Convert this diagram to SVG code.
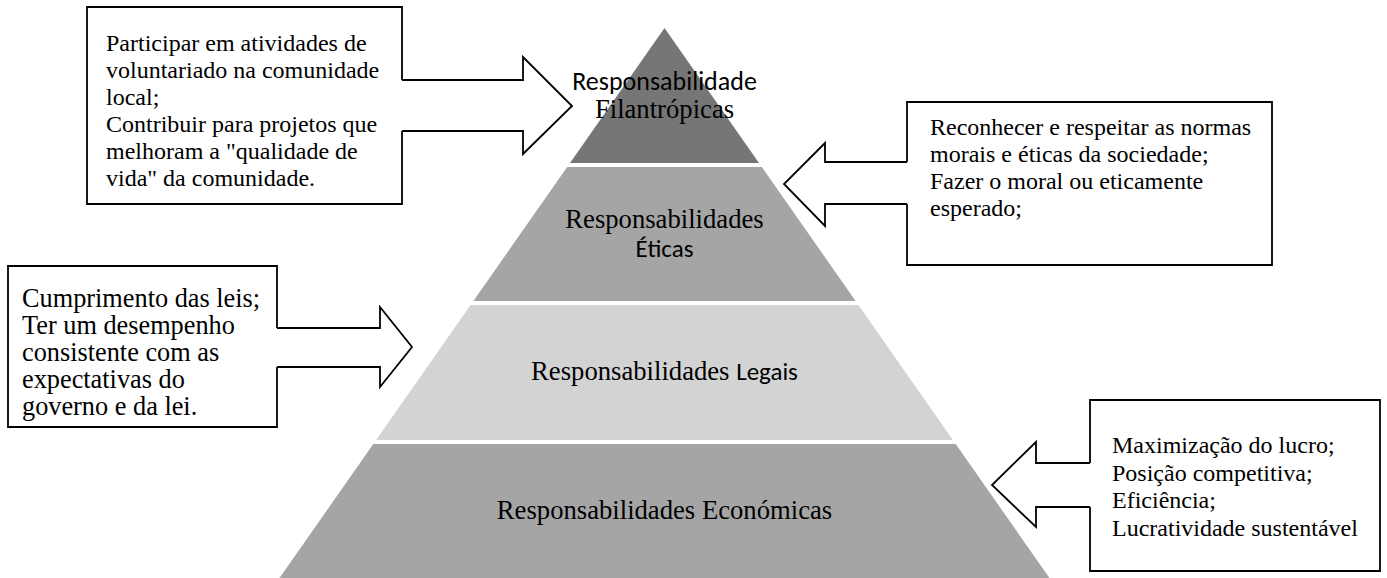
<svg xmlns="http://www.w3.org/2000/svg" width="1387" height="578" viewBox="0 0 1387 578">
<style>
.serif{font-family:"Liberation Serif","Times New Roman",serif;fill:#000}
.sans{font-family:Carlito,Lato,"Liberation Sans",sans-serif;fill:#000}
.lbl{font-size:26.67px}
.box{font-size:24px}
.box3{font-size:26.3px}
.out{fill:#fff;stroke:#000;stroke-width:1.8;stroke-linejoin:miter}
.arr{fill:#fff;stroke:#000;stroke-width:1.8;stroke-linejoin:miter}
</style>
<rect width="1387" height="578" fill="#fff"/>
<g id="tier-filantropicas">
<polygon points="664.5,28 759,163 570,163" fill="#767676"/>
<text class="sans" font-size="26" x="664.5" y="90" text-anchor="middle">Responsabilidade</text>
<text class="serif lbl" x="664.5" y="118" text-anchor="middle">Filantrópicas</text>
</g>
<g id="tier-eticas">
<polygon points="567.2,167 761.8,167 855.6,301 473.4,301" fill="#a5a5a5"/>
<text class="serif lbl" x="664.5" y="228" text-anchor="middle">Responsabilidades</text>
<text class="sans" font-size="25" x="664.5" y="257" text-anchor="middle">Éticas</text>
</g>
<g id="tier-legais">
<polygon points="470.6,305 858.4,305 952.9,440 376.1,440" fill="#d3d3d3"/>
<text x="664.5" y="380" text-anchor="middle"><tspan class="serif lbl">Responsabilidades </tspan><tspan class="sans" font-size="25">Legais</tspan></text>
</g>
<g id="tier-economicas">
<polygon points="373.3,444 955.7,444 1049.5,578 279.5,578" fill="#a5a5a5"/>
<text class="serif lbl" x="664.5" y="519" text-anchor="middle">Responsabilidades Económicas</text>
</g>
<g id="callout-filantropicas">
<path class="out" d="M402,80 V7 H87 V204 H402 V131"/>
<text class="serif box" x="106" y="51">Participar em atividades de</text>
<text class="serif box" x="106" y="78">voluntariado na comunidade</text>
<text class="serif box" x="106" y="105">local;</text>
<text class="serif box" x="106" y="132">Contribuir para projetos que</text>
<text class="serif box" x="106" y="159">melhoram a "qualidade de</text>
<text class="serif box" x="106" y="186">vida" da comunidade.</text>
</g>
<g id="callout-eticas">
<path class="out" d="M907,162 V102 H1272 V265 H907 V204"/>
<text class="serif box" x="930" y="135">Reconhecer e respeitar as normas</text>
<text class="serif box" x="930" y="162">morais e éticas da sociedade;</text>
<text class="serif box" x="930" y="189">Fazer o moral ou eticamente</text>
<text class="serif box" x="930" y="216">esperado;</text>
</g>
<g id="callout-legais">
<path class="out" d="M277,328 V266 H8 V427 H277 V367"/>
<text class="serif box3" x="22" y="307">Cumprimento das leis;</text>
<text class="serif box3" x="22" y="334">Ter um desempenho</text>
<text class="serif box3" x="22" y="361">consistente com as</text>
<text class="serif box3" x="22" y="388">expectativas do</text>
<text class="serif box3" x="22" y="415">governo e da lei.</text>
</g>
<g id="callout-economicas">
<path class="out" d="M1090,463 V400 H1380 V571 H1090 V507"/>
<text class="serif box" x="1112" y="453">Maximização do lucro;</text>
<text class="serif box" x="1112" y="481">Posição competitiva;</text>
<text class="serif box" x="1112" y="508">Eficiência;</text>
<text class="serif box" x="1112" y="536">Lucratividade sustentável</text>
</g>
<g id="connectors">
<path class="arr" d="M402,80 H523 V57 L572,106 L523,154 V131 H402"/>
<path class="arr" d="M907,162 H825 V143 L784,184 L825,226 V204 H907"/>
<path class="arr" d="M277,328 H380 V307 L412,347 L380,387 V367 H277"/>
<path class="arr" d="M1090,463 H1036 V442 L992,485 L1036,527 V507 H1090"/>
</g>
</svg>
